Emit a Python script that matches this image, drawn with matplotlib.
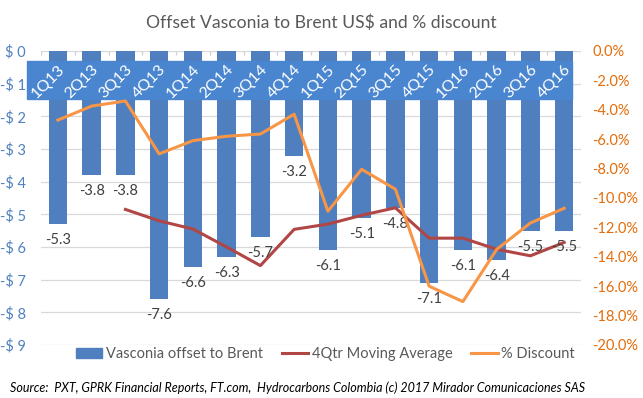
import numpy as np
import matplotlib.pyplot as plt
from matplotlib.patches import Rectangle
from matplotlib.ticker import FuncFormatter

plt.rcParams['font.family'] = ['Lato', 'DejaVu Sans']

quarters = ["1Q13", "2Q13", "3Q13", "4Q13", "1Q14", "2Q14", "3Q14", "4Q14",
            "1Q15", "2Q15", "3Q15", "4Q15", "1Q16", "2Q16", "3Q16", "4Q16"]
offset = [-5.3, -3.8, -3.8, -7.6, -6.6, -6.3, -5.7, -3.2,
          -6.1, -5.1, -4.8, -7.1, -6.1, -6.4, -5.5, -5.5]
# moving average starts at 3Q13
ma_values = [-4.85, -5.2, -5.45, -6.0, -6.57, -5.46, -5.3,
             -5.03, -4.8, -5.73, -5.73, -6.07, -6.27, -5.86]
discount = [-4.7, -3.75, -3.4, -7.0, -6.1, -5.8, -5.65, -4.3,
            -10.9, -8.05, -9.4, -16.0, -17.05, -13.5, -11.7, -10.7]

bar_col = '#4F7FBE'
ma_col = '#B04645'
disc_col = '#F79646'
text_col = '#404040'

x = np.arange(len(quarters))

fig = plt.figure(figsize=(6.43, 3.98), dpi=100)
ax = fig.add_axes([0.0638, 0.1332, 0.8398, 0.7387])
ax2 = ax.twinx()
ax.set_zorder(ax2.get_zorder() - 1)
ax2.patch.set_visible(False)

ax.bar(x, offset, width=0.55, color=bar_col, zorder=2)
ax.plot(x[2:], ma_values, color=ma_col, lw=2.2, zorder=3)
for xi, v in zip(x, offset):
    ax.text(xi, v - 0.28, f"{v:.1f}", ha='center', va='top', fontsize=10.5, color=text_col, zorder=4)

ax.set_xlim(-0.5, len(quarters) - 0.5)
ax.set_ylim(-9, 0)
ax.set_yticks(np.arange(0, -10, -1))
ax.yaxis.set_major_formatter(FuncFormatter(lambda v, p: "$ 0" if v == 0 else f"-$ {abs(v):.0f}"))
ax.tick_params(axis='y', length=0, labelsize=10.5, labelcolor='#4F81BD', pad=11)
ax.grid(axis='y', color='#D9D9D9', lw=0.9, zorder=0)
ax.set_xticks([])
ax.vlines(np.append(x - 0.5, x[-1] + 0.5), -0.13, 0, color='#D0D0D0', lw=0.9, zorder=1)
for s in ax.spines.values():
    s.set_visible(False)

# category labels on a blue band near the top
ax.add_patch(Rectangle((-0.92, -1.47), 16.14, 1.16, color='#4A86D0', zorder=5, clip_on=False))
for xi, q in zip(x, quarters):
    ax.text(xi - 0.3, -0.95, q, rotation=45, ha='center', va='center', color='white',
            fontsize=11.5, zorder=6)

ax2.plot(x, discount, color=disc_col, lw=2.2, zorder=3)
ax2.set_ylim(-20, 0)
ax2.set_yticks(np.arange(0, -22, -2))
ax2.yaxis.set_major_formatter(FuncFormatter(lambda v, p: f"{v:.1f}%"))
ax2.tick_params(axis='y', length=0, labelsize=10.5, labelcolor='#E46C0A', pad=8)
for s in ax2.spines.values():
    s.set_visible(False)

fig.text(0.5, 0.943, "Offset Vasconia to Brent US$ and % discount", ha='center', va='center',
         fontsize=12.6, color='#595959')

handles = [Rectangle((0, 0), 1, 1, color=bar_col),
           plt.Line2D([], [], color=ma_col, lw=2.2),
           plt.Line2D([], [], color=disc_col, lw=2.2)]
fig.legend(handles, ["Vasconia offset to Brent", "4Qtr Moving Average", "% Discount"],
           loc='center', bbox_to_anchor=(0.506, 0.11), ncol=3, frameon=False,
           fontsize=10.5, labelcolor='#595959', handlelength=1.8, columnspacing=1.3,
           handletextpad=0.25)

fig.text(0.015, 0.025, "Source:  PXT, GPRK Financial Reports, FT.com,  Hydrocarbons Colombia (c) 2017 Mirador Comunicaciones SAS",
         fontsize=9.0, style='italic', color='black', ha='left', va='center')

fig.savefig('out.png', dpi=100)
